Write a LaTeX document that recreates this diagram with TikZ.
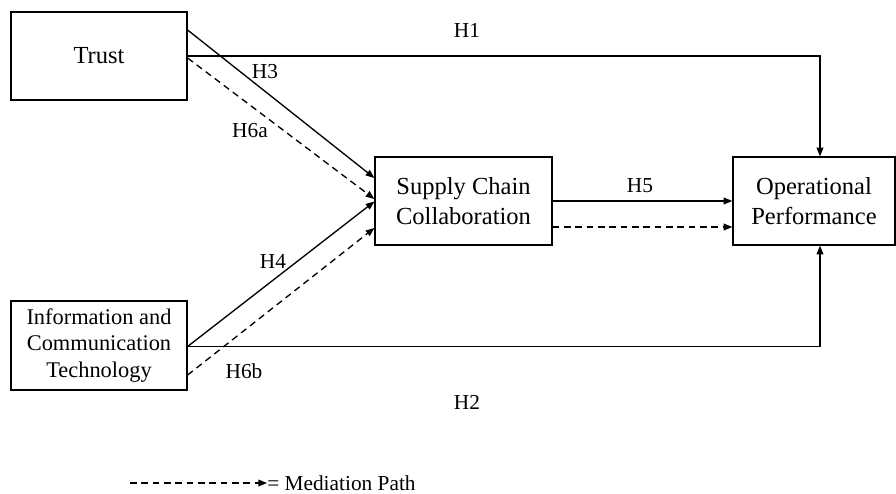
\documentclass[tikz,border=0pt]{standalone}
\usepackage{fontspec}
\setmainfont{Liberation Serif}
\usetikzlibrary{arrows.meta,calc}
\begin{document}
\begin{tikzpicture}[x=0.75pt,y=-0.75pt,
  box/.style={draw,line width=0.9pt,rectangle,align=center,inner sep=0pt,
    font=\fontsize{18.4}{22}\selectfont},
  lbl/.style={font=\fontsize{16}{19}\selectfont,inner sep=0pt},
  arr/.style={line width=1pt,-{Triangle[length=6.5pt,width=5pt]}},
  med/.style={arr,dash pattern=on 5pt off 3.5pt}]
\useasboundingbox (0,0) rectangle (896,493);
\node[box,minimum width=176*0.75pt,minimum height=88*0.75pt] (trust) at (99,56) {Trust};
\node[box,minimum width=176*0.75pt,minimum height=89*0.75pt,font=\fontsize{16.8}{20}\selectfont] (ict) at (99,345.5) {Information and\\Communication\\Technology};
\node[box,minimum width=177*0.75pt,minimum height=88*0.75pt] (scc) at (463.5,201) {Supply Chain\\Collaboration};
\node[box,minimum width=162*0.75pt,minimum height=88*0.75pt] (op) at (814,201) {Operational\\Performance};
% H1
\draw[arr] (trust.east) -| ($(op.north)+(6,0)$);
% H3
\draw[arr] ($(trust.east)+(0,-26)$) -- ($(scc.west)+(0,-23)$);
% H6a
\draw[med] ($(trust.east)+(0,2)$) -- ($(scc.west)+(0,-2)$);
% H4
\draw[arr] ($(ict.east)+(0,1)$) -- ($(scc.west)+(0,0.5)$);
% H2
\draw[arr] ($(ict.east)+(0,1)$) -| ($(op.south)+(6,0)$);
% H6b
\draw[med] ($(ict.east)+(0,29.5)$) -- ($(scc.west)+(0,27)$);
% H5
\draw[arr] (scc.east) -- (op.west);
\draw[med] ($(scc.east)+(0,26)$) -- ($(op.west)+(0,26)$);
% labels
\node[lbl] (h1) at (467,30) {H1};
\node[lbl] (h3) at (265,72) {H3};
\node[lbl] (h6a) at (250,131) {H6a};
\node[lbl] (h5) at (640,186) {H5};
\node[lbl] (h4) at (273,261) {H4};
\node[lbl] (h6b) at (244,371) {H6b};
\node[lbl] (h2) at (467,402) {H2};
% legend
\coordinate (lg) at (130,483);
\node[lbl,anchor=west] (lgt) at (267,483) {= Mediation Path};
\draw[med] (lg) -- (lgt.west);
\end{tikzpicture}
\end{document}
